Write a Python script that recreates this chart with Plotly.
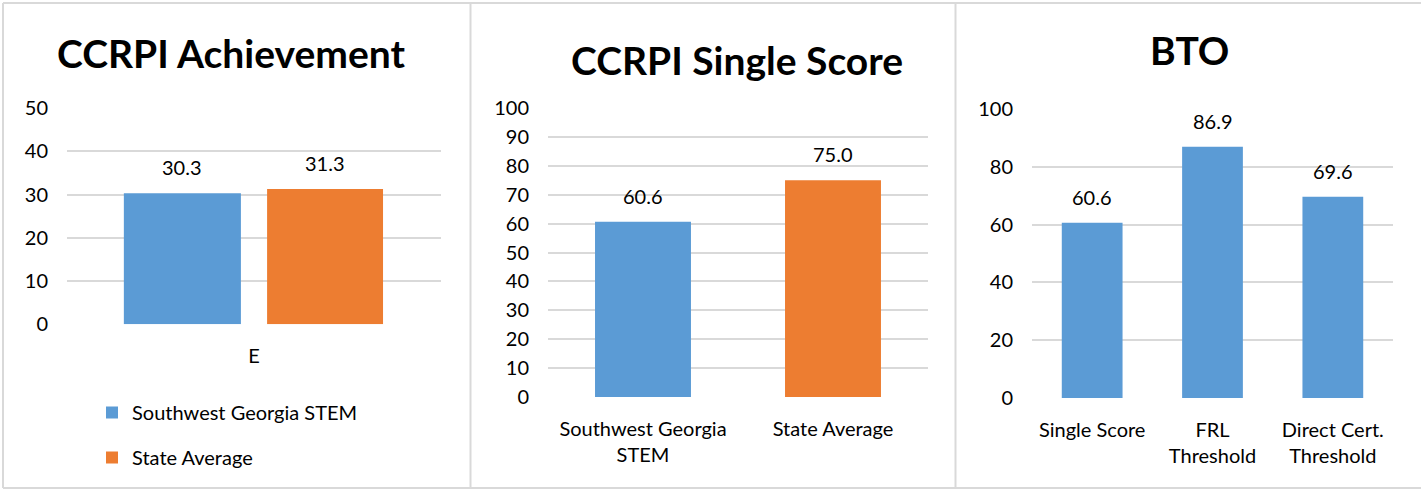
import plotly.graph_objects as go

# CCRPI Achievement (one group "E", two series)
ach_category = ["E"]
ach_school = [30.3]
ach_state = [31.3]
series_names = ["Southwest Georgia STEM", "State Average"]

# CCRPI Single Score
single_categories = ["Southwest Georgia<br>STEM", "State Average"]
single_values = [60.6, 75.0]

# BTO
bto_categories = ["Single Score", "FRL<br>Threshold", "Direct Cert.<br>Threshold"]
bto_values = [60.6, 86.9, 69.6]

titles = ["CCRPI Achievement", "CCRPI Single Score", "BTO"]

BLUE = "#5b9bd5"
ORANGE = "#ed7d31"
GRID = "#d9d9d9"
FONT = "Lato"
W, H = 1421, 489

# panel 1 bar placement inside the single category
blue_off, blue_w = -0.348, 0.313
orange_off, orange_w = 0.035, 0.310

fig = go.Figure()

fig.add_trace(go.Bar(
    x=ach_category, y=ach_school, name=series_names[0],
    marker=dict(color=BLUE, line=dict(width=0)),
    offset=blue_off, width=blue_w,
    xaxis="x", yaxis="y", legendgroup="a",
))
fig.add_trace(go.Bar(
    x=ach_category, y=ach_state, name=series_names[1],
    marker=dict(color=ORANGE, line=dict(width=0)),
    offset=orange_off, width=orange_w,
    xaxis="x", yaxis="y", legendgroup="b",
))
fig.add_trace(go.Bar(
    x=single_categories, y=single_values,
    marker=dict(color=[BLUE, ORANGE], line=dict(width=0)),
    xaxis="x2", yaxis="y2", showlegend=False,
))
fig.add_trace(go.Bar(
    x=bto_categories, y=bto_values,
    marker=dict(color=BLUE, line=dict(width=0)),
    xaxis="x3", yaxis="y3", showlegend=False,
))

# value labels
annos = []
lbl = dict(showarrow=False, yanchor="bottom", yshift=12,
           font=dict(family=FONT, size=20, color="#000"))
annos.append(dict(x=blue_off + blue_w / 2, y=ach_school[0], xref="x", yref="y",
                  text=f"{ach_school[0]:.1f}", **lbl))
annos.append(dict(x=orange_off + orange_w / 2, y=ach_state[0], xref="x", yref="y",
                  text=f"{ach_state[0]:.1f}", **lbl))
for c, v in zip(single_categories, single_values):
    annos.append(dict(x=c, y=v, xref="x2", yref="y2", text=f"{v:.1f}", **lbl))
for c, v in zip(bto_categories, bto_values):
    annos.append(dict(x=c, y=v, xref="x3", yref="y3", text=f"{v:.1f}", **lbl))

# titles
for t, cx, cy in zip(titles, [232, 737, 1189], [53, 60, 50]):
    annos.append(dict(x=cx / W, y=1 - cy / H, xref="paper", yref="paper",
                      text=f"<b>{t}</b>", showarrow=False,
                      xanchor="center", yanchor="middle",
                      font=dict(family=FONT, size=39, color="#000")))

tickfont = dict(family=FONT, size=20, color="#000")
xcommon = dict(type="category", showgrid=False, showline=False, zeroline=False,
               ticks="", tickfont=tickfont, ticklabelstandoff=18, fixedrange=True,
               automargin=False)
ycommon = dict(showline=False, zeroline=False, showgrid=True, gridcolor=GRID,
               gridwidth=2, ticks="", tickfont=tickfont, ticklabelstandoff=18,
               fixedrange=True, automargin=False)

# panel frames
shapes = []
lw = dict(color=GRID, width=2)
for x0, y0, x1, y1 in [(3, 3, W, 3), (3, 488, W, 488), (3, 3, 3, 488),
                       (470.5, 3, 470.5, 488), (955.5, 3, 955.5, 488)]:
    shapes.append(dict(type="line", xref="paper", yref="paper",
                       x0=x0 / W, x1=x1 / W, y0=1 - y0 / H, y1=1 - y1 / H, line=lw))

fig.update_layout(
    width=W, height=H,
    margin=dict(l=0, r=0, t=0, b=0, autoexpand=False),
    paper_bgcolor="white", plot_bgcolor="white",
    bargap=0.495,
    xaxis=dict(domain=[67 / W, 441 / W], range=[-0.5, 0.5], anchor="y", **xcommon),
    yaxis=dict(domain=[1 - 324.3 / H, 1 - 108 / H], range=[0, 50], dtick=10,
               anchor="x", **ycommon),
    xaxis2=dict(domain=[548 / W, 928 / W], anchor="y2", **xcommon),
    yaxis2=dict(domain=[1 - 397 / H, 1 - 108 / H], range=[0, 100], dtick=10,
                anchor="x2", **ycommon),
    xaxis3=dict(domain=[1032 / W, 1393 / W], anchor="y3", **xcommon),
    yaxis3=dict(domain=[1 - 398 / H, 1 - 109 / H], range=[0, 100], dtick=20,
                anchor="x3", **ycommon),
    legend=dict(x=92 / W, y=1 - 393 / H, xanchor="left", yanchor="top",
                orientation="v", font=dict(family=FONT, size=20, color="#000"),
                tracegroupgap=16, bgcolor="rgba(0,0,0,0)"),
    annotations=annos,
    shapes=shapes,
    showlegend=True,
)

fig.write_html("out.html",
               config={"displayModeBar": False},
               post_script="document.body.style.margin='0';"
                           "document.body.style.overflow='hidden';")
